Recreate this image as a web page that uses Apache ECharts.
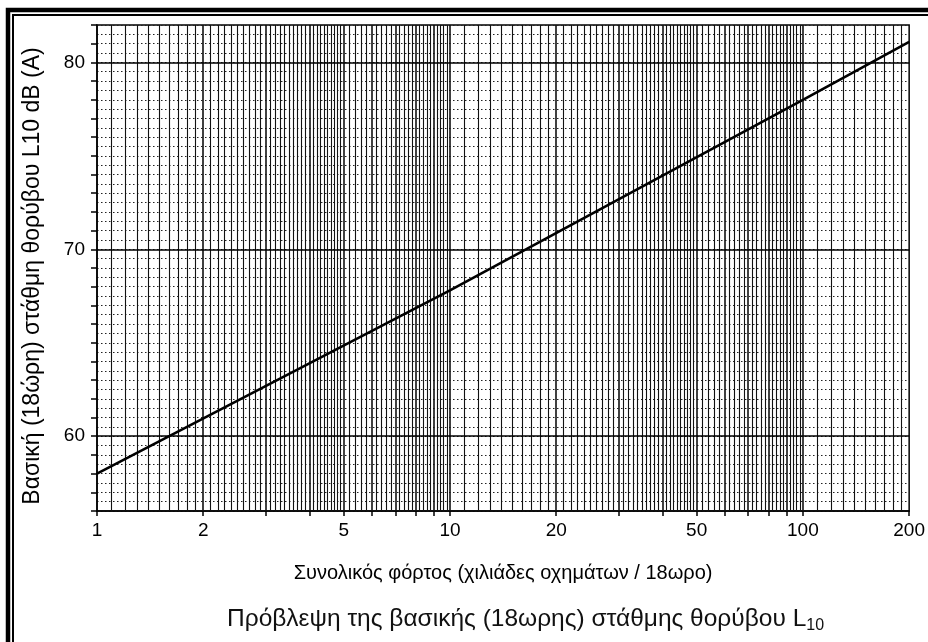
<!DOCTYPE html>
<html>
<head>
<meta charset="utf-8">
<script src="https://cdn.jsdelivr.net/npm/echarts@6/dist/echarts.min.js"></script>
<style>html,body{margin:0;padding:0;background:#fff}#c{width:928px;height:642px}</style>
</head>
<body>
<div id="c"></div>
<script>
// ---- data ----
const flow  = [1, 10, 100, 200];          // thousand vehicles / 18h
const level = [58.0, 67.8, 78.0, 81.1];   // L10 dB(A)

// ---- axis tick labels ----
const xLabelValues = [1, 2, 5, 10, 20, 50, 100, 200];
const xTickValues  = [1, 2, 3, 4, 5, 6, 7, 8, 9, 10, 20, 30, 40, 50, 60, 70, 80, 90, 100, 200];
const yLabelValues = [60, 70, 80];
const yMajorLines  = [60, 70, 80];

// ---- log-paper ruling (within one decade), repeated per decade ----
const rulingBands = [[1, 2, 0.1], [2, 5, 0.1], [5, 10, 0.2]];
const decades = [1, 10, 100];
const xMin = 1, xMax = 200, yMin = 56, yMax = 82;

const texts = {
  yName: 'Βασική (18ώρη) στάθμη θορύβου L10 dB (A)',
  xName: 'Συνολικός φόρτος (χιλιάδες οχημάτων / 18ωρο)',
  caption: 'Πρόβλεψη της βασικής (18ωρης) στάθμης θορύβου L',
  captionSub: '10'
};

const FONT = "'Liberation Sans', Arial, sans-serif";

// build vertical ruling positions
const ruling = [];
decades.forEach(d => {
  rulingBands.forEach(([a, b, s]) => {
    const n = Math.round((b - a) / s);
    for (let i = 0; i < n; i++) {
      const base = +(a + i * s).toFixed(4);
      const v = +(base * d).toFixed(4);
      if (v > xMin && v < xMax) ruling.push({ v, major: Math.abs(base - Math.round(base)) < 1e-6 });
    }
  });
});

const vLines = ruling.map(r => ({
  xAxis: r.v,
  lineStyle: { color: '#111', width: r.major ? 1.6 : 1.1, type: 'solid' }
}));
const hLines = yMajorLines.map(v => ({
  yAxis: v,
  lineStyle: { color: '#000', width: 1.6, type: 'solid' }
}));

const chart = echarts.init(document.getElementById('c'), null, { renderer: 'canvas' });
chart.setOption({
  animation: false,
  backgroundColor: '#fff',
  textStyle: { fontFamily: FONT },
  grid: { left: 97, right: 16, top: 25, bottom: 131, show: true, borderColor: '#000', borderWidth: 1.5, backgroundColor: 'transparent' },
  title: {
    left: 222, top: 599,
    text: '{a|' + texts.caption + '}{b|' + texts.captionSub + '}',
    textStyle: {
      fontWeight: 'normal',
      rich: {
        a: { fontFamily: FONT, fontSize: 24.5, fontWeight: 'normal', color: '#111', lineHeight: 30 },
        b: { fontFamily: FONT, fontSize: 16, fontWeight: 'normal', color: '#111', lineHeight: 12, verticalAlign: 'bottom' }
      }
    }
  },
  xAxis: [{
    type: 'log', logBase: 10, min: xMin, max: xMax,
    name: texts.xName, nameLocation: 'middle', nameGap: 52,
    nameTextStyle: { fontFamily: FONT, fontSize: 20, color: '#000' },
    axisLine: { show: true, lineStyle: { color: '#000', width: 1.5 } },
    axisTick: { show: true, customValues: xTickValues, length: 5, inside: false, lineStyle: { color: '#000', width: 1.5 } },
    axisLabel: { show: true, customValues: xLabelValues, margin: 10, fontSize: 19, color: '#000', fontFamily: FONT,
      formatter: v => String(Math.round(v)) },
    splitLine: { show: false },
    minorSplitLine: { show: false }
  }],
  yAxis: [{
    type: 'value', min: yMin, max: yMax, interval: 0.5,
    axisLine: { show: true, lineStyle: { color: '#000', width: 1.5 } },
    axisTick: { show: false },
    axisLabel: { show: false },
    splitLine: { show: true, lineStyle: { color: '#222', width: 1, type: [1.5, 2.5] } }
  }, {
    type: 'value', min: yMin, max: yMax, interval: 1, position: 'left',
    name: texts.yName, nameLocation: 'middle', nameGap: 53, nameRotate: 90,
    nameTextStyle: { fontFamily: FONT, fontSize: 23, color: '#000', padding: [0, 16, 0, 0] },
    axisLine: { show: false },
    axisTick: { show: true, length: 6, lineStyle: { color: '#000', width: 1.5 } },
    axisLabel: { show: true, margin: 12, fontSize: 19, color: '#000', fontFamily: FONT,
      formatter: v => (yLabelValues.indexOf(v) >= 0 ? String(v) : '') },
    splitLine: { show: false }
  }],
  graphic: [
    { type: 'rect', silent: true, z: 100, shape: { x: 8, y: 10, width: 1200, height: 1200 }, style: { fill: null, stroke: '#000', lineWidth: 4.5 } },
    { type: 'rect', silent: true, z: 100, shape: { x: 13, y: 15, width: 1200, height: 1200 }, style: { fill: null, stroke: '#000', lineWidth: 2 } }
  ],
  series: [{
    type: 'line', data: [], xAxisIndex: 0, yAxisIndex: 0, z: 1, silent: true,
    markLine: { silent: true, symbol: ['none', 'none'], label: { show: false }, animation: false,
      data: vLines.concat(hLines) }
  }, {
    type: 'line', xAxisIndex: 0, yAxisIndex: 0, z: 5, silent: true,
    data: flow.map((x, i) => [x, level[i]]),
    symbol: 'none', smooth: false,
    lineStyle: { color: '#000', width: 2.6 }
  }]
});
</script>
</body>
</html>
